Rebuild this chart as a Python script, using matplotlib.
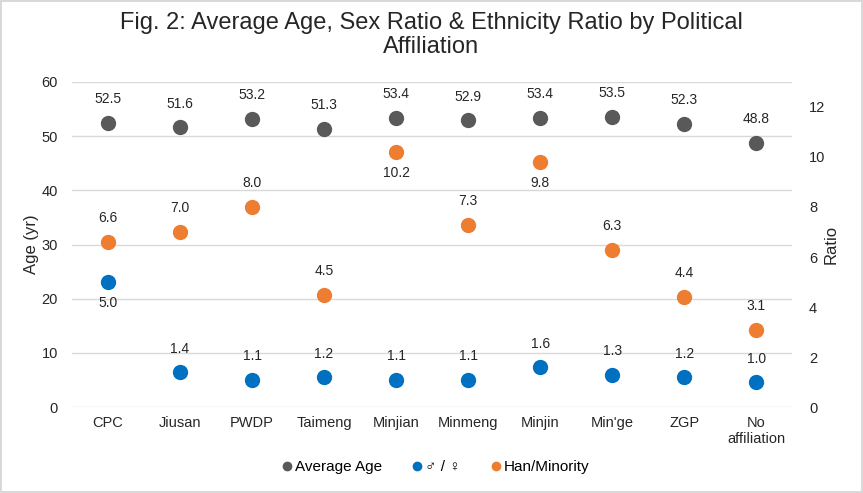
import matplotlib.pyplot as plt
from matplotlib.lines import Line2D

plt.rcParams['font.family'] = ['Liberation Sans', 'DejaVu Sans']

parties = ['CPC', 'Jiusan', 'PWDP', 'Taimeng', 'Minjian', 'Minmeng',
           'Minjin', "Min'ge", 'ZGP', 'No\naffiliation']
avg_age = [52.5, 51.6, 53.2, 51.3, 53.4, 52.9, 53.4, 53.5, 52.3, 48.8]
sex_ratio = [5.0, 1.4, 1.1, 1.2, 1.1, 1.1, 1.6, 1.3, 1.2, 1.0]
han_ratio = [6.6, 7.0, 8.0, 4.5, 10.2, 7.3, 9.8, 6.3, 4.4, 3.1]
# labels drawn under the point instead of above
sex_below = [0]
han_below = [4, 6]

grey = '#595959'
blue = '#0070C0'
orange = '#ED7D31'

fig = plt.figure(figsize=(8.63, 4.93), dpi=100)
fig.patch.set_edgecolor('#d9d9d9')
fig.patch.set_linewidth(1.5)
ax = fig.add_axes([0.0834, 0.174, 0.8346, 0.66])
ax2 = ax.twinx()

x = list(range(len(parties)))
ax.plot(x, avg_age, 'o', color=grey, markersize=10, zorder=3)
ax2.plot(x, sex_ratio, 'o', color=blue, markersize=10, zorder=3)
ax2.plot(x, han_ratio, 'o', color=orange, markersize=10, zorder=3)


def label(axis, xs, ys, below):
    for i, (xi, yi) in enumerate(zip(xs, ys)):
        dy = -15 if i in below else 17
        axis.annotate(f'{yi:.1f}', (xi, yi), xytext=(0, dy), textcoords='offset points',
                      ha='center', va='center', fontsize=10, color='#262626')


label(ax, x, avg_age, [])
label(ax2, x, sex_ratio, sex_below)
label(ax2, x, han_ratio, han_below)

ax.set_xlim(-0.5, 9.5)
ax.set_ylim(0, 60)
ax2.set_ylim(0, 13)
ax.set_yticks(range(0, 61, 10))
ax2.set_yticks(range(0, 13, 2))
ax.set_xticks(x)
ax.set_xticklabels(parties)
ax.grid(axis='y', color='#d9d9d9', linewidth=1)
ax.set_axisbelow(True)
for a in (ax, ax2):
    for s in a.spines.values():
        s.set_visible(False)
    a.tick_params(length=0, labelsize=10.5, colors='#262626')
ax.tick_params(axis='y', pad=10)
ax2.tick_params(axis='y', pad=12)
ax.tick_params(axis='x', pad=6)

ax.set_ylabel('Age (yr)', fontsize=12, color='#262626', labelpad=2)
ax2.set_ylabel('Ratio', fontsize=12, color='#262626', labelpad=-1)

fig.suptitle('Fig. 2: Average Age, Sex Ratio & Ethnicity Ratio by Political\nAffiliation',
             fontsize=17, y=0.975, color='#262626', linespacing=1.1)

handles = [Line2D([], [], marker='o', ls='', color=c, markersize=6) for c in (grey, blue, orange)]
fig.legend(handles, ['Average Age', '♂ / ♀', 'Han/Minority'], loc='center',
           bbox_to_anchor=(0.505, 0.052), ncol=3, frameon=False, fontsize=11,
           handlelength=0.6, handletextpad=0.2, columnspacing=2.0)

fig.savefig('out.png')
